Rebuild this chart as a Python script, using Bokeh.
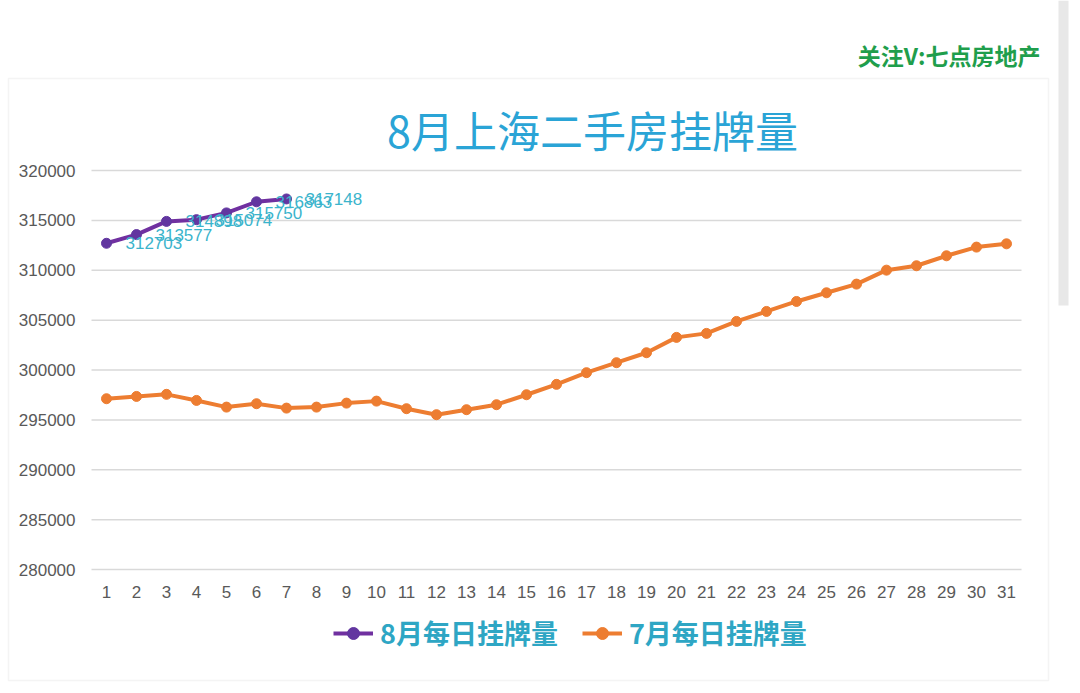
from bokeh.plotting import figure
from bokeh.models import (ColumnDataSource, Label, Legend, LegendItem, BoxAnnotation,
                          FixedTicker, Range1d, BasicTickFormatter, LinearAxis)
from bokeh.embed import file_html
from bokeh.resources import INLINE
from bokeh.core.properties import value

# ---------------- data ----------------
title_text = "8月上海二手房挂牌量"
watermark_text = "关注V:七点房地产"
aug_name = "8月每日挂牌量"
jul_name = "7月每日挂牌量"

aug_days = [1, 2, 3, 4, 5, 6, 7]
aug_values = [312703, 313577, 314898, 315074, 315750, 316863, 317148]

jul_days = list(range(1, 32))
jul_values = [297120, 297350, 297560, 296950, 296280, 296620, 296180, 296280,
              296680, 296880, 296120, 295520, 296020, 296520, 297520, 298560,
              299730, 300730, 301730, 303270, 303670, 304870, 305870, 306870,
              307740, 308610, 310010, 310450, 311450, 312320, 312650]

y_ticks = [280000, 285000, 290000, 295000, 300000, 305000, 310000, 315000, 320000]
x_ticks = list(range(1, 32))

# ---------------- layout (pixels) ----------------
W, H = 1072, 686
PLOT_L, PLOT_R = 91, 1021      # plot area left/right (px from left)
PLOT_T, PLOT_B = 170, 569      # plot area top/bottom (px from top)
X0, X1 = 0.5, 31.5             # category span of plot area
Y0, Y1 = y_ticks[0], y_ticks[-1]

ppx = (PLOT_R - PLOT_L) / (X1 - X0)
ppy = (PLOT_B - PLOT_T) / (Y1 - Y0)
x_range = Range1d(X0 - PLOT_L / ppx, X1 + (W - PLOT_R) / ppx)
y_range = Range1d(Y0 - (H - PLOT_B) / ppy, Y1 + PLOT_T / ppy)


def sy(y_from_top):
    return H - y_from_top


# ---------------- styles ----------------
PURPLE = "#7030a0"
PURPLE_DOT = "#6236a0"
ORANGE = "#ed7d31"
GRID = "#d9d9d9"
TICK_COL = "#595959"
LABEL_COL = "#3bb4cc"
TITLE_COL = "#2aa4d6"
LEGEND_COL = "#2ea6c4"
GREEN = "#1f9e4c"
CJK = "Noto Sans CJK SC"
LATIN = "Liberation Sans"

p = figure(width=W, height=H, output_backend="svg", toolbar_location=None,
           x_range=x_range, y_range=y_range,
           x_axis_location=None, y_axis_location=None,
           min_border=0)
p.background_fill_color = "white"
p.border_fill_color = "white"
p.outline_line_color = None
p.xgrid.grid_line_color = None
p.ygrid.grid_line_color = None

# axes fixed at the edges of the plot area
yax = LinearAxis(fixed_location=X0, ticker=FixedTicker(ticks=y_ticks),
                 formatter=BasicTickFormatter(use_scientific=False))
xax = LinearAxis(fixed_location=Y0, ticker=FixedTicker(ticks=x_ticks))
for ax in (xax, yax):
    ax.axis_line_color = None
    ax.major_tick_line_color = None
    ax.minor_tick_line_color = None
    ax.major_label_text_color = TICK_COL
    ax.major_label_text_font = LATIN
    ax.major_label_text_font_size = "17px"
yax.major_label_standoff = 10
xax.major_label_standoff = 10
p.add_layout(yax, "left")
p.add_layout(xax, "below")

# chart box
p.add_layout(BoxAnnotation(left=8, right=1048, bottom=sy(680), top=sy(78),
                           left_units="screen", right_units="screen",
                           top_units="screen", bottom_units="screen",
                           fill_color=None, line_color=GRID, line_width=1.5,
                           level="underlay"))
# scrollbar of the sheet
p.add_layout(BoxAnnotation(left=1058, right=1068, bottom=sy(305), top=sy(0),
                           left_units="screen", right_units="screen",
                           top_units="screen", bottom_units="screen",
                           fill_color="#e8e8e8", fill_alpha=1, line_color=None,
                           level="underlay"))

# horizontal gridlines across the plot area
gsrc = ColumnDataSource(dict(x0=[X0] * len(y_ticks), x1=[X1] * len(y_ticks),
                             y=y_ticks))
p.segment("x0", "y", "x1", "y", source=gsrc, line_color=GRID, line_width=1.5)

# series
jul_src = ColumnDataSource(dict(x=jul_days, y=jul_values))
aug_src = ColumnDataSource(dict(x=aug_days, y=aug_values,
                                lab=[str(v) for v in aug_values]))

jl = p.line("x", "y", source=jul_src, line_color=ORANGE, line_width=4)
jm = p.scatter("x", "y", source=jul_src, size=10, fill_color=ORANGE,
               line_color=ORANGE)
al = p.line("x", "y", source=aug_src, line_color=PURPLE, line_width=4)
am = p.scatter("x", "y", source=aug_src, size=10, fill_color=PURPLE_DOT,
               line_color=PURPLE_DOT)

p.text("x", "y", text="lab", source=aug_src, x_offset=19, y_offset=0,
       text_baseline="middle", text_align="left", text_color=LABEL_COL,
       text_font=value(LATIN), text_font_size="17px")

p.add_layout(Label(x=592, y=sy(128), x_units="screen", y_units="screen",
                   text=title_text, text_align="center", text_baseline="middle",
                   text_color=TITLE_COL, text_font=CJK, text_font_size="43px"))
p.add_layout(Label(x=1040, y=sy(54), x_units="screen", y_units="screen",
                   text=watermark_text, text_align="right", text_baseline="middle",
                   text_color=GREEN, text_font=CJK, text_font_style="bold",
                   text_font_size="23px"))

legend = Legend(items=[LegendItem(label=aug_name, renderers=[al, am]),
                       LegendItem(label=jul_name, renderers=[jl, jm])],
                location=(333, sy(652)), orientation="horizontal",
                border_line_color=None, background_fill_alpha=0,
                padding=0, margin=0, spacing=24, glyph_width=40,
                glyph_height=30, label_height=30, label_standoff=7,
                label_text_font=CJK, label_text_font_size="27px",
                label_text_font_style="bold", label_text_color=LEGEND_COL)
p.add_layout(legend)

open("out.html", "w").write(file_html(p, INLINE))
